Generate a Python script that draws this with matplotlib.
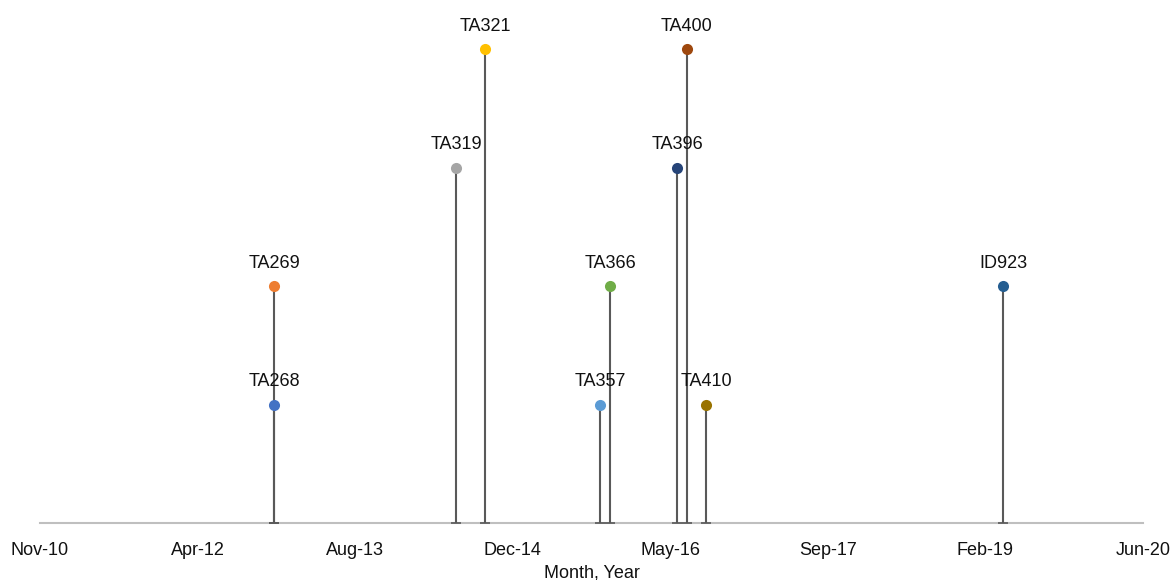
import matplotlib
matplotlib.use("Agg")
import matplotlib.pyplot as plt
import matplotlib.dates as mdates
import numpy as np
import datetime as dt

plt.rcParams['font.family'] = ['Liberation Sans', 'DejaVu Sans']

# ---- data ----
names = ["TA268", "TA269", "TA319", "TA321", "TA357", "TA366", "TA396", "TA400", "TA410", "ID923"]
dates = ["2012-12-01", "2012-12-01", "2014-07-01", "2014-10-01", "2015-10-01",
         "2015-11-01", "2016-06-01", "2016-07-01", "2016-09-01", "2019-04-01"]
levels = [1, 2, 3, 4, 1, 2, 3, 4, 1, 2]
colors = ["#4472C4", "#ED7D31", "#A5A5A5", "#FFC000", "#5B9BD5",
          "#70AD47", "#264478", "#9E480E", "#997300", "#255E91"]
axis_start = "2010-11-18"
axis_end = "2020-06-18"
tick_step_days = 500
x_title = "Month, Year"

W, H = 1175, 580
fig = plt.figure(figsize=(W / 100, H / 100), dpi=100)
left, right = 40, 1143
base_y, top_y = 523, 2
ax = fig.add_axes([left / W, 1 - base_y / H, (right - left) / W, (base_y - top_y) / H])

xd = [mdates.date2num(dt.datetime.strptime(d, "%Y-%m-%d")) for d in dates]
x0 = mdates.date2num(dt.datetime.strptime(axis_start, "%Y-%m-%d"))
x1 = mdates.date2num(dt.datetime.strptime(axis_end, "%Y-%m-%d"))

stem_color = "#595959"
ax.vlines(xd, 0, levels, colors=stem_color, linewidth=1.5, zorder=2)
ax.plot(xd, [0] * len(xd), linestyle='none', marker='_', markersize=7,
        markeredgewidth=1.2, color=stem_color, zorder=2, clip_on=False)
for xi, yi, c, n in zip(xd, levels, colors, names):
    ax.plot([xi], [yi], 'o', color=c, markersize=8, zorder=3, markeredgewidth=0)
    ax.annotate(n, (xi, yi), xytext=(0, 16.5), textcoords='offset points',
                ha='center', va='center', fontsize=13, color='#111111')

ax.set_xlim(x0, x1)
ax.set_ylim(0, (base_y - top_y) / 118.5)
ticks = np.arange(x0, x1 + 1, tick_step_days)
ax.set_xticks(ticks)
ax.xaxis.set_major_formatter(mdates.DateFormatter('%b-%y'))
ax.tick_params(axis='x', length=0, pad=14, labelsize=13, labelcolor='#111111')
ax.set_yticks([])
for s in ['top', 'right', 'left']:
    ax.spines[s].set_visible(False)
ax.spines['bottom'].set_color('#BFBFBF')
ax.spines['bottom'].set_linewidth(1.5)
ax.spines['bottom'].set_zorder(1)
ax.set_xlabel(x_title, fontsize=13, color='#111111', labelpad=4)

fig.savefig("out.png", dpi=100)
